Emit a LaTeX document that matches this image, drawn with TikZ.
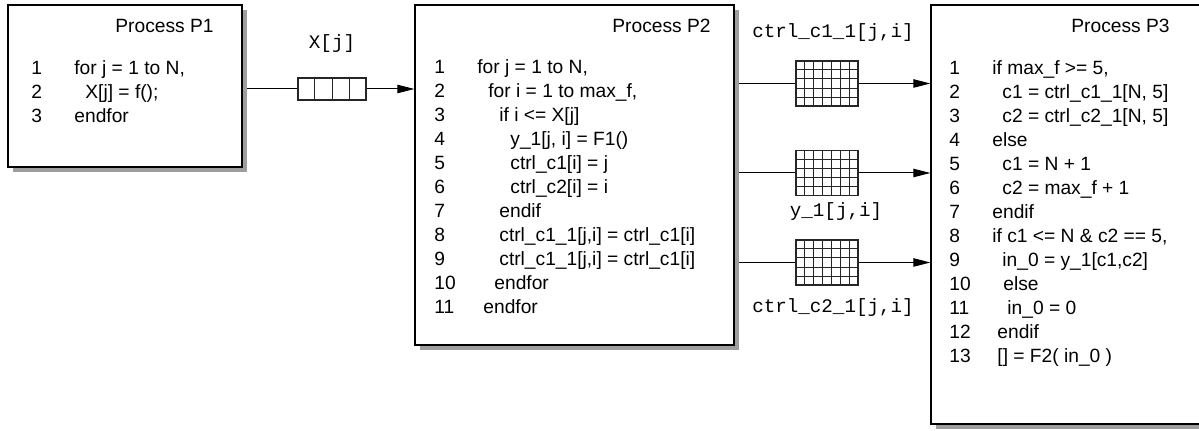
\documentclass[tikz,border=0pt]{standalone}
\usepackage{fontspec}
\setmainfont{Liberation Sans}
\newfontfamily\monof{Liberation Mono}
\usetikzlibrary{arrows.meta,calc,shadows}
\pgfdeclarelayer{bg}
\pgfsetlayers{bg,main}
\begin{document}
\begin{tikzpicture}[x=0.5pt,y=-0.5pt,
  procbox/.style={draw=black, line width=0.6pt, fill=white, inner sep=0pt,
    general shadow={shadow xshift=2.6pt, shadow yshift=-2.6pt, fill=black!38, opacity=1}},
  cellbox/.style={draw=black!85, line width=0.55pt, fill=white, inner sep=0pt},
  cellline/.style={draw=black!85, line width=0.5pt},
  conn/.style={draw=black, line width=0.5pt},
  arr/.style={conn, -{Triangle[length=8.5pt,width=4.2pt]}},
  code/.style={anchor=base west, inner sep=0pt, font=\fontsize{9.6}{11}\selectfont},
  title/.style={anchor=base west, inner sep=0pt, font=\fontsize{9.6}{11}\selectfont},
  mono/.style={anchor=base, inner sep=0pt, font=\fontsize{9.6}{11}\monof}]
\path[use as bounding box, clip] (0,0) rectangle (1199,431);

% process boxes
\node[procbox, minimum width=117pt, minimum height=81pt] (P1) at (125,86) {};
\node[procbox, minimum width=159.5pt, minimum height=170pt] (P2) at (574.5,175) {};
\node[procbox, minimum width=174.5pt, minimum height=209.5pt] (P3) at (1105.5,214.5) {};

% titles
\node[title] (t1) at (115,33) {Process P1};
\node[title] (t2) at (612,33) {Process P2};
\node[title] (t3) at (1071,33) {Process P3};

% P1 code
\foreach \k in {1,2,3}
  \node[code] (p1n\k) at (31,{75+24*(\k-1)}) {\k};
\foreach \xx/\t [count=\k] in {74/{for j = 1 to N,}, 85/{X[j] = f();}, 74/{endfor}}
  \node[code] (p1c\k) at (\xx,{75+24*(\k-1)}) {\t};

% P2 code
\foreach \k in {1,...,11}
  \node[code] (p2n\k) at (434,{74+24*(\k-1)}) {\k};
\foreach \xx/\t [count=\k] in {477/{for j = 1 to N,}, 488/{for i = 1 to max\_f,},
  499/{if i <= X[j]}, 510/{y\_1[j, i] = F1()}, 510/{ctrl\_c1[i] = j},
  510/{ctrl\_c2[i] = i}, 499/{endif}, 499/{ctrl\_c1\_1[j,i] = ctrl\_c1[i]},
  499/{ctrl\_c1\_1[j,i] = ctrl\_c1[i]}, 494/{endfor}, 483/{endfor}}
  \node[code] (p2c\k) at (\xx,{74+24*(\k-1)}) {\t};

% P3 code
\foreach \k in {1,...,13}
  \node[code] (p3n\k) at (949,{75+24*(\k-1)}) {\k};
\foreach \xx/\t [count=\k] in {992/{if max\_f >= 5,}, 1002/{c1 = ctrl\_c1\_1[N, 5]},
  1002/{c2 = ctrl\_c2\_1[N, 5]}, 992/{else}, 1002/{c1 = N + 1},
  1002/{c2 = max\_f + 1}, 992/{endif}, 992/{if c1 <= N \& c2 == 5,},
  1002/{in\_0 = y\_1[c1,c2]}, 1003/{else}, 1007/{in\_0 = 0},
  997/{endif}, 997/{[] = F2( in\_0 )}}
  \node[code] (p3c\k) at (\xx,{75+24*(\k-1)}) {\t};

% queue X[j]
\node[cellbox, minimum width=34pt, minimum height=11pt] (Q) at (332,89) {};
\foreach \i in {1,2,3}
  \draw[cellline] ($(Q.north west)!\i/4!(Q.north east)$) -- ($(Q.south west)!\i/4!(Q.south east)$);
\node[mono] (lq) at (332,49) {X[j]};

% grids
\foreach \g/\yy in {G1/83.5, G2/173, G3/262.5} {
  \node[cellbox, minimum width=31pt, minimum height=22.5pt] (\g) at (827,\yy) {};
  \foreach \i in {1,...,6}
    \draw[cellline] ($(\g.north west)!\i/7!(\g.north east)$) -- ($(\g.south west)!\i/7!(\g.south east)$);
  \foreach \i in {1,...,4}
    \draw[cellline] ($(\g.north west)!\i/5!(\g.south west)$) -- ($(\g.north east)!\i/5!(\g.south east)$);
}
\node[mono] (l1) at (833,38) {ctrl\_c1\_1[j,i]};
\node[mono] (l2) at (836,217) {y\_1[j,i]};
\node[mono] (l3) at (833,313) {ctrl\_c2\_1[j,i]};

% connectors
\begin{pgfonlayer}{bg}
\draw[conn] (P1.east |- Q.west) -- (Q.west);
\draw[arr] (Q.east) -- (Q.east -| P2.west);
\foreach \g in {G1,G2,G3} {
  \draw[conn] (P2.east |- \g.west) -- (\g.west);
  \draw[arr] (\g.east) -- (\g.east -| P3.west);
}
\end{pgfonlayer}
\end{tikzpicture}
\end{document}
